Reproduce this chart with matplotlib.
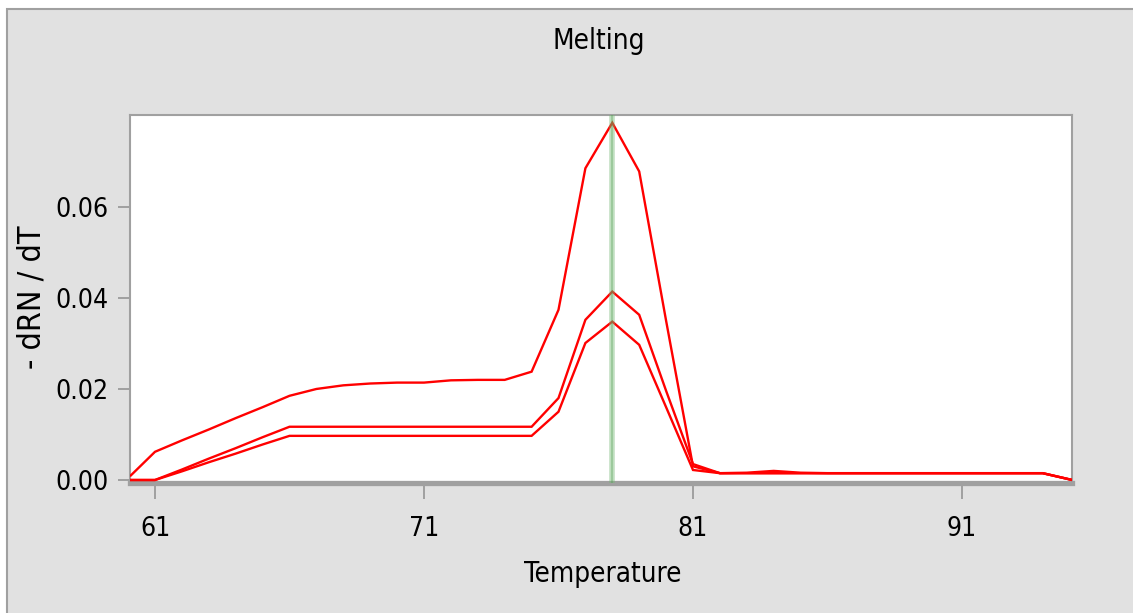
import matplotlib
matplotlib.use("Agg")
import matplotlib.pyplot as plt
import matplotlib.patches as mpatches

# Melt-curve derivative data (-dRN/dT) for three wells
temperature = [60.1, 61, 62, 63, 64, 65, 66, 67, 68, 69, 70, 71, 72, 73, 74, 75,
               76, 77, 78, 79, 80, 81, 82, 83, 84, 85, 86, 87, 88, 89, 90, 91,
               92, 93, 94, 95.1]

well_a = [0.0010, 0.0062, 0.0087, 0.0111, 0.0136, 0.0160, 0.0185, 0.0200, 0.0208,
          0.0212, 0.0214, 0.0214, 0.0219, 0.0220, 0.0220, 0.0238, 0.0374, 0.0685,
          0.0785, 0.0678, 0.0350, 0.0030, 0.0015, 0.0016, 0.0020, 0.0016, 0.0015,
          0.0015, 0.0015, 0.0015, 0.0015, 0.0015, 0.0015, 0.0015, 0.0015, 0.0000]

well_b = [0.0000, 0.0000, 0.0023, 0.0047, 0.0070, 0.0094, 0.0117, 0.0117, 0.0117,
          0.0117, 0.0117, 0.0117, 0.0117, 0.0117, 0.0117, 0.0117, 0.0180, 0.0352,
          0.0414, 0.0363, 0.0196, 0.0035, 0.0015, 0.0015, 0.0015, 0.0015, 0.0015,
          0.0015, 0.0015, 0.0015, 0.0015, 0.0015, 0.0015, 0.0015, 0.0015, 0.0000]

well_c = [0.0000, 0.0000, 0.0019, 0.0039, 0.0058, 0.0078, 0.0097, 0.0097, 0.0097,
          0.0097, 0.0097, 0.0097, 0.0097, 0.0097, 0.0097, 0.0097, 0.0150, 0.0301,
          0.0348, 0.0297, 0.0160, 0.0022, 0.0015, 0.0015, 0.0015, 0.0015, 0.0015,
          0.0015, 0.0015, 0.0015, 0.0015, 0.0015, 0.0015, 0.0015, 0.0015, 0.0000]

x_ticks = [61, 71, 81, 91]
y_ticks = [0.00, 0.02, 0.04, 0.06]
y_tick_labels = ["0.00", "0.02", "0.04", "0.06"]

title_text = "Melting"
x_label = "Temperature"
y_label = "- dRN / dT"

# ---------------------------------------------------------------------------
W, H = 1133, 613
DPI = 100
GREY = "#a0a0a0"
PANEL = "#e1e1e1"

plt.rcParams["font.family"] = ["DejaVu Sans"]
plt.rcParams["font.stretch"] = "condensed"

fig = plt.figure(figsize=(W / DPI, H / DPI), dpi=DPI, facecolor="white")

# grey window panel with a thin border along the top and left
panel = mpatches.Rectangle((7 / W, -0.1), 1.2, (H - 9) / H + 0.1,
                           transform=fig.transFigure, facecolor=PANEL,
                           edgecolor=GREY, linewidth=1.5, zorder=-10)
fig.patches.append(panel)

ax_left, ax_right, ax_top, ax_bottom = 130, 1072, 115, 483
ax = fig.add_axes([ax_left / W, 1 - ax_bottom / H,
                   (ax_right - ax_left) / W, (ax_bottom - ax_top) / H])
ax.set_zorder(1)
ax.set_facecolor("white")

for series in (well_a, well_b, well_c):
    ax.plot(temperature, series, color="#ff0000", linewidth=1.7,
            solid_joinstyle="miter", zorder=3)

# marker at the melting temperature (peak of the curves)
peak_idx = max(range(len(well_a)), key=lambda i: well_a[i])
tm = temperature[peak_idx]
ax.axvline(tm, color="#74b874", alpha=0.45, linewidth=4.0, zorder=4)
ax.axvline(tm, color="#4f9a4f", alpha=0.35, linewidth=1.3, zorder=4)

ax.set_xlim(60.07, 95.09)
ax.set_ylim(-0.00066, 0.0802)

ax.set_xticks(x_ticks)
ax.set_xticklabels([str(t) for t in x_ticks])
ax.set_yticks(y_ticks)
ax.set_yticklabels(y_tick_labels)

for side in ("top", "left", "right"):
    ax.spines[side].set_color(GREY)
    ax.spines[side].set_linewidth(1.5)
ax.spines["bottom"].set_color(GREY)
ax.spines["bottom"].set_linewidth(3.8)

ax.tick_params(axis="x", length=11.5, width=1.4, color=GREY, pad=12,
               labelsize=19, labelcolor="black")
ax.tick_params(axis="y", length=8.6, width=1.4, color=GREY, pad=7,
               labelsize=19, labelcolor="black")

fig.text(599 / W, 1 - 49 / H, title_text, ha="center", va="baseline",
         fontsize=20, color="black")
fig.text(603 / W, 1 - 582 / H, x_label, ha="center", va="baseline",
         fontsize=20, color="black")
fig.text(32 / W, 1 - 297 / H, y_label, ha="center", va="center",
         rotation=90, fontsize=23, color="black")

fig.savefig("out.png", dpi=DPI, facecolor=fig.get_facecolor())
